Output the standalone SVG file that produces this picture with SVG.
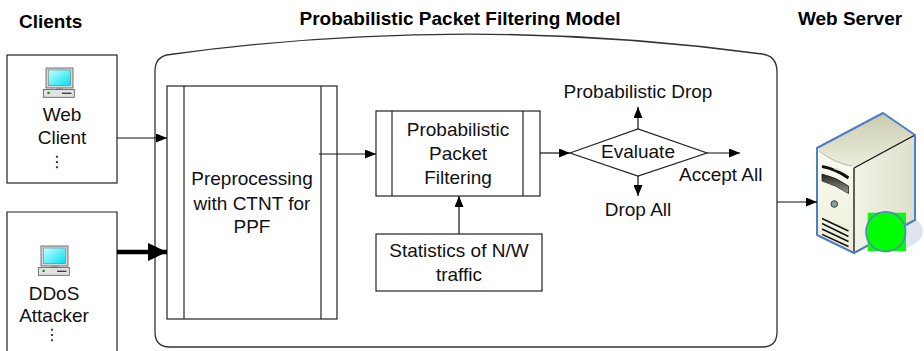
<svg xmlns="http://www.w3.org/2000/svg" xmlns:xlink="http://www.w3.org/1999/xlink" width="924" height="351" viewBox="0 0 924 351">
  <style>
    .box { fill: #ffffff; stroke: #222222; stroke-width: 1.2; }
    .sep { stroke: #222222; stroke-width: 1.2; fill: none; }
    .lbl { font-family: "Liberation Sans", Arial, sans-serif; font-size: 19px; fill: #111111; text-anchor: middle; }
    .lbl.start { text-anchor: start; }
    .ttl { font-family: "Liberation Sans", Arial, sans-serif; font-size: 19px; font-weight: bold; fill: #000000; }
    .dots { font-family: "DejaVu Sans", sans-serif; font-size: 16px; fill: #111111; text-anchor: middle; }
    .wire { stroke: #111111; stroke-width: 1.2; fill: none; }
    .heavy { stroke: #000000; stroke-width: 4.5; fill: none; }
  </style>
  <defs>
    <marker id="arrow" markerUnits="userSpaceOnUse" markerWidth="11" markerHeight="9" refX="11" refY="4.5" orient="auto">
      <path d="M0,0 L11,4.5 L0,9 Z" fill="#000000"/>
    </marker>
    <marker id="arrowBig" markerUnits="userSpaceOnUse" markerWidth="19" markerHeight="18" refX="19" refY="9" orient="auto">
      <path d="M0,0 L19,9 L0,18 Z" fill="#000000"/>
    </marker>
    <linearGradient id="screen" x1="0" y1="0" x2="1" y2="1">
      <stop offset="0" stop-color="#c8ffff"/>
      <stop offset="1" stop-color="#00e0f2"/>
    </linearGradient>
    <linearGradient id="srvTop" x1="0" y1="0" x2="0" y2="1">
      <stop offset="0" stop-color="#c9cbae"/>
      <stop offset="1" stop-color="#eeeedf"/>
    </linearGradient>
    <linearGradient id="srvFront" x1="0" y1="0" x2="0" y2="1">
      <stop offset="0" stop-color="#fdfdf2"/>
      <stop offset="1" stop-color="#ececd8"/>
    </linearGradient>
    <linearGradient id="srvSide" x1="0" y1="0" x2="1" y2="0">
      <stop offset="0" stop-color="#f3f3e6"/>
      <stop offset="1" stop-color="#dedecb"/>
    </linearGradient>
    <linearGradient id="slot" x1="0" y1="0" x2="0" y2="1">
      <stop offset="0" stop-color="#222222"/>
      <stop offset="1" stop-color="#9a9a92"/>
    </linearGradient>
    <!-- desktop computer icon -->
    <g id="pc">
      <rect x="46" y="68" width="27" height="20" fill="#d6d6d6" stroke="#555555" stroke-width="0.8"/>
      <rect x="48.5" y="70" width="22" height="15.5" fill="url(#screen)" stroke="#6a6a6a" stroke-width="0.5"/>
      <rect x="56" y="88" width="7" height="1.8" fill="#9a9a9a"/>
      <rect x="43.3" y="89.5" width="31" height="7.8" fill="#e2e2e2" stroke="#555555" stroke-width="0.8"/>
      <rect x="47.5" y="91.8" width="2.2" height="2.2" fill="#00a000"/>
      <line x1="62" y1="93.3" x2="71.5" y2="93.3" stroke="#333333" stroke-width="1.3"/>
    </g>
  </defs>

  <rect width="924" height="351" fill="#ffffff"/>

  <!-- column headings -->
  <g id="headings">
    <text class="ttl" x="19" y="28">Clients</text>
    <text class="ttl" x="460" y="25" text-anchor="middle">Probabilistic Packet Filtering Model</text>
    <text class="ttl" x="850" y="25" text-anchor="middle">Web Server</text>
  </g>

  <!-- filtering model boundary -->
  <g id="model">
    <path d="M155,332 L155,71 Q155,56 170,54.5 Q466,14 762,54 Q777,56 777,72 L777,332 Q777,347 762,347 L170,347 Q155,347 155,332 Z" fill="none" stroke="#333333" stroke-width="1.3"/>
  </g>

  <!-- clients -->
  <g id="web-client">
    <rect class="box" x="7" y="55" width="110" height="128"/>
    <use xlink:href="#pc" href="#pc"/>
    <text class="lbl" x="62" y="121">Web</text>
    <text class="lbl" x="62" y="144">Client</text>
    <text class="dots" x="57" y="167">⋮</text>
  </g>
  <g id="ddos-attacker">
    <path class="box" d="M7,360 L7,212 L117,212 L117,360"/>
    <use xlink:href="#pc" href="#pc" transform="translate(-5,178)"/>
    <text class="lbl" x="54" y="300">DDoS</text>
    <text class="lbl" x="54" y="322">Attacker</text>
    <text class="dots" x="52" y="340">⋮</text>
  </g>

  <!-- processing stages -->
  <g id="preprocessing">
    <rect class="box" x="167" y="86" width="170" height="233"/>
    <line class="sep" x1="184" y1="86" x2="184" y2="319"/>
    <line class="sep" x1="321" y1="86" x2="321" y2="319"/>
    <text class="lbl" x="252" y="185">Preprocessing</text>
    <text class="lbl" x="252" y="210">with CTNT for</text>
    <text class="lbl" x="252" y="233">PPF</text>
  </g>
  <g id="ppf">
    <rect class="box" x="376" y="111" width="164" height="85"/>
    <line class="sep" x1="392" y1="111" x2="392" y2="196"/>
    <line class="sep" x1="523" y1="111" x2="523" y2="196"/>
    <text class="lbl" x="458" y="136">Probabilistic</text>
    <text class="lbl" x="458" y="160">Packet</text>
    <text class="lbl" x="458" y="184">Filtering</text>
  </g>
  <g id="statistics">
    <rect class="box" x="376" y="234" width="166" height="57"/>
    <text class="lbl" x="459" y="257">Statistics of N/W</text>
    <text class="lbl" x="459" y="281">traffic</text>
  </g>
  <g id="evaluate">
    <path class="box" d="M570,153 L638,129 L707,153 L638,176 Z"/>
    <text class="lbl" x="638" y="158">Evaluate</text>
  </g>

  <!-- web server -->
  <g id="web-server">
    <ellipse cx="891" cy="231" rx="32" ry="19" fill="#dfe5ef"/>
    <path d="M817,148 L883,113 L915,135 L854,168 Q832,164 817,148 Z" fill="url(#srvTop)"/>
    <path d="M854,168 L915,135 L915,220 L854,253 Z" fill="url(#srvSide)"/>
    <path d="M817,148 Q832,164 854,168 L854,253 L817,235 Z" fill="url(#srvFront)"/>
    <path d="M819,151 Q834,163 852,166" fill="none" stroke="#b8b8a4" stroke-width="1"/>
    <line x1="854" y1="168" x2="915" y2="135" stroke="#111111" stroke-width="1.3"/>
    <line x1="854" y1="168" x2="854" y2="253" stroke="#111111" stroke-width="1.3"/>
    <path d="M822,166.5 Q836,169 848.5,178" fill="none" stroke="#111111" stroke-width="3"/>
    <path d="M834,168 L840,170" stroke="#e8e8e0" stroke-width="2"/>
    <path d="M822,174 Q836,177 848.5,186 L848.5,193.5 Q836,185 822,181 Z" fill="url(#slot)" stroke="#222222" stroke-width="0.8"/>
    <circle cx="834.3" cy="204" r="3.3" fill="#7fa197" stroke="#333333" stroke-width="0.9"/>
    <g stroke="#111111" stroke-width="1.4">
      <line x1="822" y1="218.5" x2="848.5" y2="231"/>
      <line x1="822" y1="223.5" x2="848.5" y2="236.5"/>
      <line x1="822" y1="229" x2="848.5" y2="241.5"/>
      <line x1="822" y1="234.3" x2="848.5" y2="246.5"/>
    </g>
    <path d="M817,148 L883,113 L915,135 L915,220 L854,253 L817,235 Z" fill="none" stroke="#4d7ec6" stroke-width="2" stroke-linejoin="round"/>
    <rect x="867.7" y="212.7" width="38.3" height="38.3" fill="#00ff00"/>
    <circle cx="885.8" cy="231.7" r="19.8" fill="#00ff00" stroke="#5b82c4" stroke-width="1.6"/>
  </g>

  <!-- connectors -->
  <g id="connectors">
    <line class="wire" x1="117" y1="138" x2="167" y2="138" marker-end="url(#arrow)"/>
    <line class="heavy" x1="117" y1="252" x2="167" y2="252" marker-end="url(#arrowBig)"/>
    <line class="wire" x1="319" y1="154" x2="376" y2="154" marker-end="url(#arrow)"/>
    <line class="wire" x1="459" y1="234" x2="459" y2="196" marker-end="url(#arrow)"/>
    <line class="wire" x1="540" y1="153" x2="570" y2="153" marker-end="url(#arrow)"/>
    <line class="wire" x1="638" y1="129" x2="638" y2="107" marker-end="url(#arrow)"/>
    <line class="wire" x1="707" y1="153" x2="740" y2="153" marker-end="url(#arrow)"/>
    <line class="wire" x1="638" y1="176" x2="638" y2="196" marker-end="url(#arrow)"/>
    <line class="wire" x1="777" y1="202" x2="817" y2="202" marker-end="url(#arrow)"/>
    <text class="lbl" x="638" y="98">Probabilistic Drop</text>
    <text class="lbl start" x="679" y="181">Accept All</text>
    <text class="lbl" x="638" y="216">Drop All</text>
  </g>
</svg>
